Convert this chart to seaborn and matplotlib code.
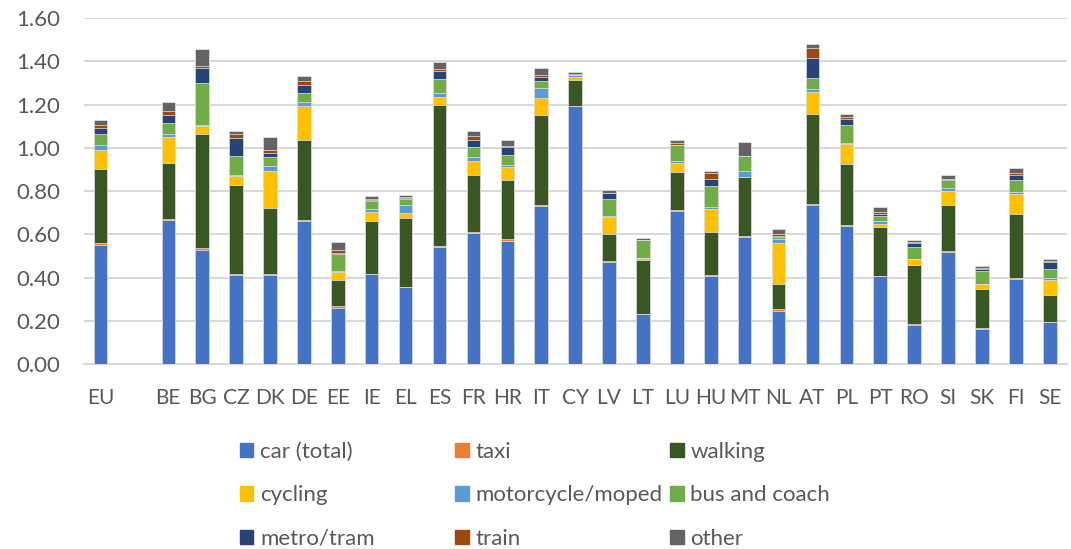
import matplotlib
matplotlib.use("Agg")
import matplotlib.pyplot as plt
import matplotlib.patches as mpatches
import numpy as np
import pandas as pd
import seaborn as sns

# Maat (tyhjä paikka EU:n jälkeen)
countries = ["EU", "", "BE", "BG", "CZ", "DK", "DE", "EE", "IE", "EL", "ES", "FR", "HR", "IT",
             "CY", "LV", "LT", "LU", "HU", "MT", "NL", "AT", "PL", "PT", "RO", "SI", "SK", "FI", "SE"]

car = [0.552, 0, 0.666, 0.526, 0.411, 0.411, 0.662, 0.257, 0.414, 0.355, 0.541, 0.606, 0.567, 0.733,
       1.192, 0.473, 0.230, 0.709, 0.405, 0.587, 0.247, 0.737, 0.638, 0.406, 0.179, 0.519, 0.161, 0.393, 0.193]
taxi = [0.008, 0, 0.004, 0.010, 0.003, 0.003, 0.003, 0.012, 0.004, 0.003, 0.003, 0.003, 0.010, 0.003,
        0.002, 0.003, 0.003, 0.003, 0.006, 0.003, 0.008, 0.004, 0.005, 0.003, 0.006, 0.003, 0.004, 0.004, 0.003]
walking = [0.344, 0, 0.259, 0.526, 0.413, 0.306, 0.372, 0.119, 0.244, 0.316, 0.654, 0.264, 0.276, 0.415,
           0.121, 0.124, 0.246, 0.175, 0.198, 0.274, 0.113, 0.417, 0.283, 0.223, 0.274, 0.215, 0.184, 0.295, 0.121]
cycling = [0.088, 0, 0.119, 0.038, 0.042, 0.175, 0.156, 0.037, 0.043, 0.023, 0.035, 0.068, 0.056, 0.081,
           0.011, 0.080, 0.009, 0.042, 0.110, 0.003, 0.193, 0.099, 0.091, 0.016, 0.025, 0.065, 0.019, 0.096, 0.072]
moto = [0.020, 0, 0.017, 0.007, 0.004, 0.020, 0.019, 0.006, 0.014, 0.039, 0.019, 0.017, 0.011, 0.045,
        0.009, 0.003, 0.002, 0.008, 0.007, 0.028, 0.017, 0.014, 0.006, 0.014, 0.003, 0.013, 0.003, 0.008, 0.008]
bus = [0.050, 0, 0.049, 0.191, 0.091, 0.042, 0.042, 0.077, 0.034, 0.026, 0.068, 0.045, 0.048, 0.032,
       0.003, 0.082, 0.082, 0.075, 0.098, 0.065, 0.011, 0.050, 0.082, 0.024, 0.054, 0.037, 0.057, 0.057, 0.044]
metro = [0.029, 0, 0.036, 0.073, 0.081, 0.017, 0.035, 0.005, 0.006, 0.008, 0.036, 0.034, 0.034, 0.017,
         0.001, 0.025, 0.002, 0.003, 0.031, 0.001, 0.005, 0.095, 0.028, 0.010, 0.020, 0.002, 0.011, 0.019, 0.029]
train = [0.016, 0, 0.020, 0.009, 0.020, 0.018, 0.022, 0.014, 0.003, 0.003, 0.010, 0.017, 0.006, 0.013,
         0.001, 0.002, 0.001, 0.008, 0.028, 0.001, 0.007, 0.045, 0.011, 0.007, 0.004, 0.004, 0.005, 0.012, 0.008]
other = [0.024, 0, 0.040, 0.076, 0.015, 0.057, 0.023, 0.037, 0.014, 0.008, 0.030, 0.026, 0.026, 0.032,
         0.012, 0.013, 0.010, 0.013, 0.010, 0.063, 0.022, 0.017, 0.011, 0.022, 0.010, 0.017, 0.010, 0.022, 0.009]

modes = ["car (total)", "taxi", "walking", "cycling", "motorcycle/moped",
         "bus and coach", "metro/tram", "train", "other"]
colors = ["#4472C4", "#ED7D31", "#385723", "#FFC000", "#5B9BD5",
          "#70AD47", "#264478", "#9E480E", "#636363"]

df = pd.DataFrame({"country": countries, "car (total)": car, "taxi": taxi, "walking": walking,
                   "cycling": cycling, "motorcycle/moped": moto, "bus and coach": bus,
                   "metro/tram": metro, "train": train, "other": other})

# Kumulatiiviset summat pinottuja pylväitä varten
cum = df[modes].cumsum(axis=1)
cum["country"] = df["country"]

sns.set_theme(style="white")
plt.rcParams["font.family"] = ["Lato", "DejaVu Sans"]
text_col = "#595959"
grid_col = "#D9D9D9"

fig = plt.figure(figsize=(10.71, 5.49), dpi=100)
ax = fig.add_axes([0.078, 0.337, 0.918, 0.63])

# Piirretään ylhäältä alas, jotta alemmat osat peittävät ylemmät
for mode, col in zip(modes[::-1], colors[::-1]):
    sns.barplot(data=cum, x="country", y=mode, order=countries, color=col, width=0.4,
                saturation=1, edgecolor="#E6E6E6", linewidth=0.5, ax=ax, zorder=3)

ax.set_ylim(0, 1.6)
ax.set_yticks(np.arange(0, 1.61, 0.2))
ax.set_yticklabels([f"{v:.2f}" for v in np.arange(0, 1.61, 0.2)])
ax.set_xlabel("")
ax.set_ylabel("")
ax.yaxis.grid(True, color=grid_col, linewidth=1.5, zorder=0)
ax.set_axisbelow(True)
for s in ["top", "right", "left"]:
    ax.spines[s].set_visible(False)
ax.spines["bottom"].set_color(grid_col)
ax.spines["bottom"].set_linewidth(1.5)
ax.tick_params(axis="both", length=0, colors=text_col)
ax.tick_params(axis="y", pad=17, labelsize=16)
ax.tick_params(axis="x", pad=17, labelsize=15)

# Selite kolmena sarakkeena (Excelin tapaan rivijärjestyksessä)
handles = [mpatches.Patch(color=c, label=m) for m, c in zip(modes, colors)]
col_x = [0.224, 0.425, 0.626]
for i in range(3):
    fig.legend(handles=handles[i::3], loc="upper left", bbox_to_anchor=(col_x[i], 0.195),
               frameon=False, fontsize=16, labelcolor=text_col, handlelength=0.6,
               handleheight=0.6, handletextpad=0.3, labelspacing=1.05, borderpad=0,
               borderaxespad=0)

fig.savefig("out.png", dpi=100)
